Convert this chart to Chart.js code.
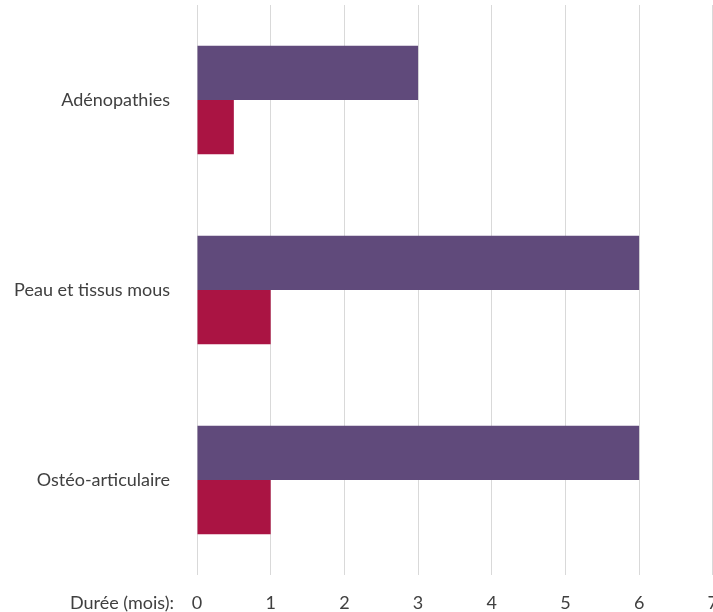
<!DOCTYPE html>
<html>
<head>
<meta charset="utf-8">
<script src="https://cdn.jsdelivr.net/npm/chart.js@4.4.0/dist/chart.umd.min.js"></script>
<style>
  html, body { margin: 0; padding: 0; background: #fff; overflow: hidden; }
  #wrap { width: 735px; height: 612px; }
</style>
</head>
<body>
<div id="wrap"><canvas id="chart"></canvas></div>
<script>
let categories = ['Adénopathies', 'Peau et tissus mous', 'Ostéo-articulaire'];
let serieA = [3, 6, 6];
let serieB = [0.5, 1, 1];
let xTicks = [0, 1, 2, 3, 4, 5, 6, 7];
let axisLabel = 'Durée (mois):';

let fontFamily = 'Lato, "Open Sans", sans-serif';
let fontSize = 18;
let textColor = '#404040';

// label drawn to the left of the first x tick
let axisLabelPlugin = {
    id: 'axisLabel',
    afterDraw(chart) {
        let ctx = chart.ctx;
        let xScale = chart.scales.x;
        ctx.save();
        ctx.font = fontSize + 'px ' + fontFamily;
        ctx.fillStyle = textColor;
        ctx.textAlign = 'right';
        ctx.textBaseline = 'middle';
        ctx.fillText(axisLabel, xScale.left - 23, chart.chartArea.bottom + 17 + fontSize * 0.6);
        ctx.restore();
    }
};

let ctx = document.getElementById('chart').getContext('2d');
new Chart(ctx, {
    type: 'bar',
    data: {
        labels: categories,
        datasets: [{
            data: serieA,
            backgroundColor: '#604a7b',
            borderWidth: 0
        }, {
            data: serieB,
            backgroundColor: '#aa1443',
            borderWidth: 0
        }]
    },
    options: {
        indexAxis: 'y',
        responsive: true,
        maintainAspectRatio: false,
        animation: false,
        layout: { padding: { top: 5, left: 0, right: 0, bottom: 0 } },
        categoryPercentage: 0.57,
        barPercentage: 1,
        plugins: {
            legend: { display: false },
            tooltip: { enabled: false }
        },
        scales: {
            x: {
                min: 0,
                max: 7,
                afterBuildTicks(scale) {
                    scale.ticks = xTicks.map(v => ({ value: v }));
                },
                afterFit(scale) { scale.height = 37; },
                grid: { color: '#d9d9d9', drawTicks: false },
                border: { display: false },
                ticks: {
                    padding: 17,
                    color: textColor,
                    font: { family: fontFamily, size: fontSize }
                }
            },
            y: {
                afterFit(scale) {
                    scale.width = 197;
                    scale.paddingTop = 0;
                    scale.paddingBottom = 0;
                },
                grid: { display: false },
                border: { display: false },
                ticks: {
                    padding: 19,
                    color: textColor,
                    font: { family: fontFamily, size: fontSize }
                }
            }
        }
    },
    plugins: [axisLabelPlugin]
});
</script>
</body>
</html>
